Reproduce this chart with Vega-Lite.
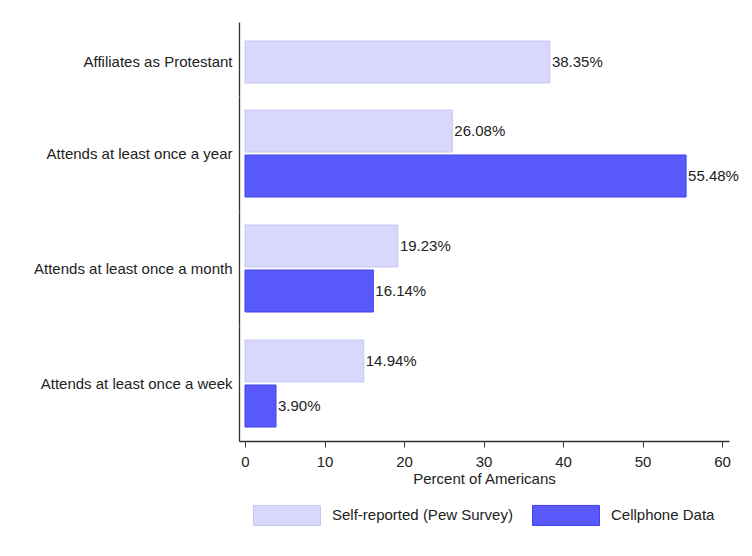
{
  "$schema": "https://vega.github.io/schema/vega-lite/v6.json",
  "background": "white",
  "padding": {"left": 33, "top": 22, "right": 5, "bottom": 5},
  "data": {"values": [
    {"group": "Affiliates as Protestant", "series": "Self-reported (Pew Survey)", "value": 38.35},
    {"group": "Attends at least once a year", "series": "Self-reported (Pew Survey)", "value": 26.08},
    {"group": "Attends at least once a year", "series": "Cellphone Data", "value": 55.48},
    {"group": "Attends at least once a month", "series": "Self-reported (Pew Survey)", "value": 19.23},
    {"group": "Attends at least once a month", "series": "Cellphone Data", "value": 16.14},
    {"group": "Attends at least once a week", "series": "Self-reported (Pew Survey)", "value": 14.94},
    {"group": "Attends at least once a week", "series": "Cellphone Data", "value": 3.90}
  ]},
  "transform": [{"calculate": "format(datum.value, '.2f') + '%'", "as": "label"}],
  "spacing": 0,
  "resolve": {"scale": {"y": "independent", "yOffset": "independent"}},
  "vconcat": [
    {
      "width": 490, "height": 74,
      "transform": [{"filter": "datum.group === 'Affiliates as Protestant'"}],
      "encoding": {
        "y": {"field": "group", "type": "nominal", "title": null,
              "scale": {"paddingInner": 0, "paddingOuter": 0.381, "align": 0.594},
              "axis": {"ticks": false, "labelPadding": 7, "minExtent": 200, "maxExtent": 200, "labelLimit": 300}},
        "yOffset": {"field": "series", "type": "nominal", "sort": ["Self-reported (Pew Survey)", "Cellphone Data"],
                    "scale": {"paddingInner": 0, "paddingOuter": 0}},
        "x": {"field": "value", "type": "quantitative", "scale": {"domain": [-0.755, 60.88], "nice": false}, "axis": null}
      },
      "layer": [
        {"mark": {"type": "bar", "strokeWidth": 1},
         "encoding": {
           "color": {"field": "series", "type": "nominal", "scale": {"domain": ["Self-reported (Pew Survey)", "Cellphone Data"], "range": ["#d8d8fc", "#5a5afc"]},
                     "legend": {"orient": "none", "legendX": 14, "legendY": 459, "direction": "horizontal", "title": null,
                                "symbolType": "M-1,-0.3L1,-0.3L1,0.3L-1,0.3Z", "symbolSize": 4489, "symbolStrokeWidth": 1,
                                "labelFontSize": 15, "labelOffset": 11, "columnPadding": 17, "labelColor": "#222", "labelLimit": 400}},
           "stroke": {"field": "series", "type": "nominal", "scale": {"domain": ["Self-reported (Pew Survey)", "Cellphone Data"], "range": ["#c6c6f6", "#4040ee"]}}
         }},
        {"mark": {"type": "text", "align": "left", "baseline": "middle", "dx": 2},
         "encoding": {"text": {"field": "label"}}}
      ]
    },
    {
      "width": 490, "height": 115,
      "transform": [{"filter": "datum.group === 'Attends at least once a year'"}],
      "encoding": {
        "y": {"field": "group", "type": "nominal", "title": null,
              "scale": {"paddingInner": 0, "paddingOuter": 0.1609},
              "axis": {"ticks": false, "labelPadding": 7, "minExtent": 200, "maxExtent": 200, "labelLimit": 300}},
        "yOffset": {"field": "series", "type": "nominal", "sort": ["Self-reported (Pew Survey)", "Cellphone Data"],
                    "scale": {"paddingInner": 0.0667, "paddingOuter": 0}},
        "x": {"field": "value", "type": "quantitative", "scale": {"domain": [-0.755, 60.88], "nice": false}, "axis": null}
      },
      "layer": [
        {"mark": {"type": "bar", "strokeWidth": 1},
         "encoding": {
           "color": {"field": "series", "type": "nominal", "scale": {"domain": ["Self-reported (Pew Survey)", "Cellphone Data"], "range": ["#d8d8fc", "#5a5afc"]}},
           "stroke": {"field": "series", "type": "nominal", "scale": {"domain": ["Self-reported (Pew Survey)", "Cellphone Data"], "range": ["#c6c6f6", "#4040ee"]}}
         }},
        {"mark": {"type": "text", "align": "left", "baseline": "middle", "dx": 2},
         "encoding": {"text": {"field": "label"}}}
      ]
    },
    {
      "width": 490, "height": 115,
      "transform": [{"filter": "datum.group === 'Attends at least once a month'"}],
      "encoding": {
        "y": {"field": "group", "type": "nominal", "title": null,
              "scale": {"paddingInner": 0, "paddingOuter": 0.1609},
              "axis": {"ticks": false, "labelPadding": 7, "minExtent": 200, "maxExtent": 200, "labelLimit": 300}},
        "yOffset": {"field": "series", "type": "nominal", "sort": ["Self-reported (Pew Survey)", "Cellphone Data"],
                    "scale": {"paddingInner": 0.0667, "paddingOuter": 0}},
        "x": {"field": "value", "type": "quantitative", "scale": {"domain": [-0.755, 60.88], "nice": false}, "axis": null}
      },
      "layer": [
        {"mark": {"type": "bar", "strokeWidth": 1},
         "encoding": {
           "color": {"field": "series", "type": "nominal", "scale": {"domain": ["Self-reported (Pew Survey)", "Cellphone Data"], "range": ["#d8d8fc", "#5a5afc"]}},
           "stroke": {"field": "series", "type": "nominal", "scale": {"domain": ["Self-reported (Pew Survey)", "Cellphone Data"], "range": ["#c6c6f6", "#4040ee"]}}
         }},
        {"mark": {"type": "text", "align": "left", "baseline": "middle", "dx": 2},
         "encoding": {"text": {"field": "label"}}}
      ]
    },
    {
      "width": 490, "height": 115,
      "transform": [{"filter": "datum.group === 'Attends at least once a week'"}],
      "encoding": {
        "y": {"field": "group", "type": "nominal", "title": null,
              "scale": {"paddingInner": 0, "paddingOuter": 0.1609},
              "axis": {"ticks": false, "labelPadding": 7, "minExtent": 200, "maxExtent": 200, "labelLimit": 300}},
        "yOffset": {"field": "series", "type": "nominal", "sort": ["Self-reported (Pew Survey)", "Cellphone Data"],
                    "scale": {"paddingInner": 0.0667, "paddingOuter": 0}},
        "x": {"field": "value", "type": "quantitative", "scale": {"domain": [-0.755, 60.88], "nice": false},
              "axis": {"values": [0, 10, 20, 30, 40, 50, 60], "title": "Percent of Americans", "grid": false, "tickSize": 6, "labelPadding": 7, "titlePadding": 2, "tickColor": "#333"}}
      },
      "layer": [
        {"mark": {"type": "bar", "strokeWidth": 1},
         "encoding": {
           "color": {"field": "series", "type": "nominal", "scale": {"domain": ["Self-reported (Pew Survey)", "Cellphone Data"], "range": ["#d8d8fc", "#5a5afc"]}},
           "stroke": {"field": "series", "type": "nominal", "scale": {"domain": ["Self-reported (Pew Survey)", "Cellphone Data"], "range": ["#c6c6f6", "#4040ee"]}}
         }},
        {"mark": {"type": "text", "align": "left", "baseline": "middle", "dx": 2},
         "encoding": {"text": {"field": "label"}}}
      ]
    }
  ],
  "config": {
    "font": "Liberation Sans",
    "view": {"stroke": null},
    "axis": {"labelFontSize": 15, "titleFontSize": 15, "titleFontWeight": "normal", "labelColor": "#222", "titleColor": "#222", "domainColor": "#333", "domainWidth": 1.3},
    "text": {"fontSize": 15, "color": "#222"}
  }
}
